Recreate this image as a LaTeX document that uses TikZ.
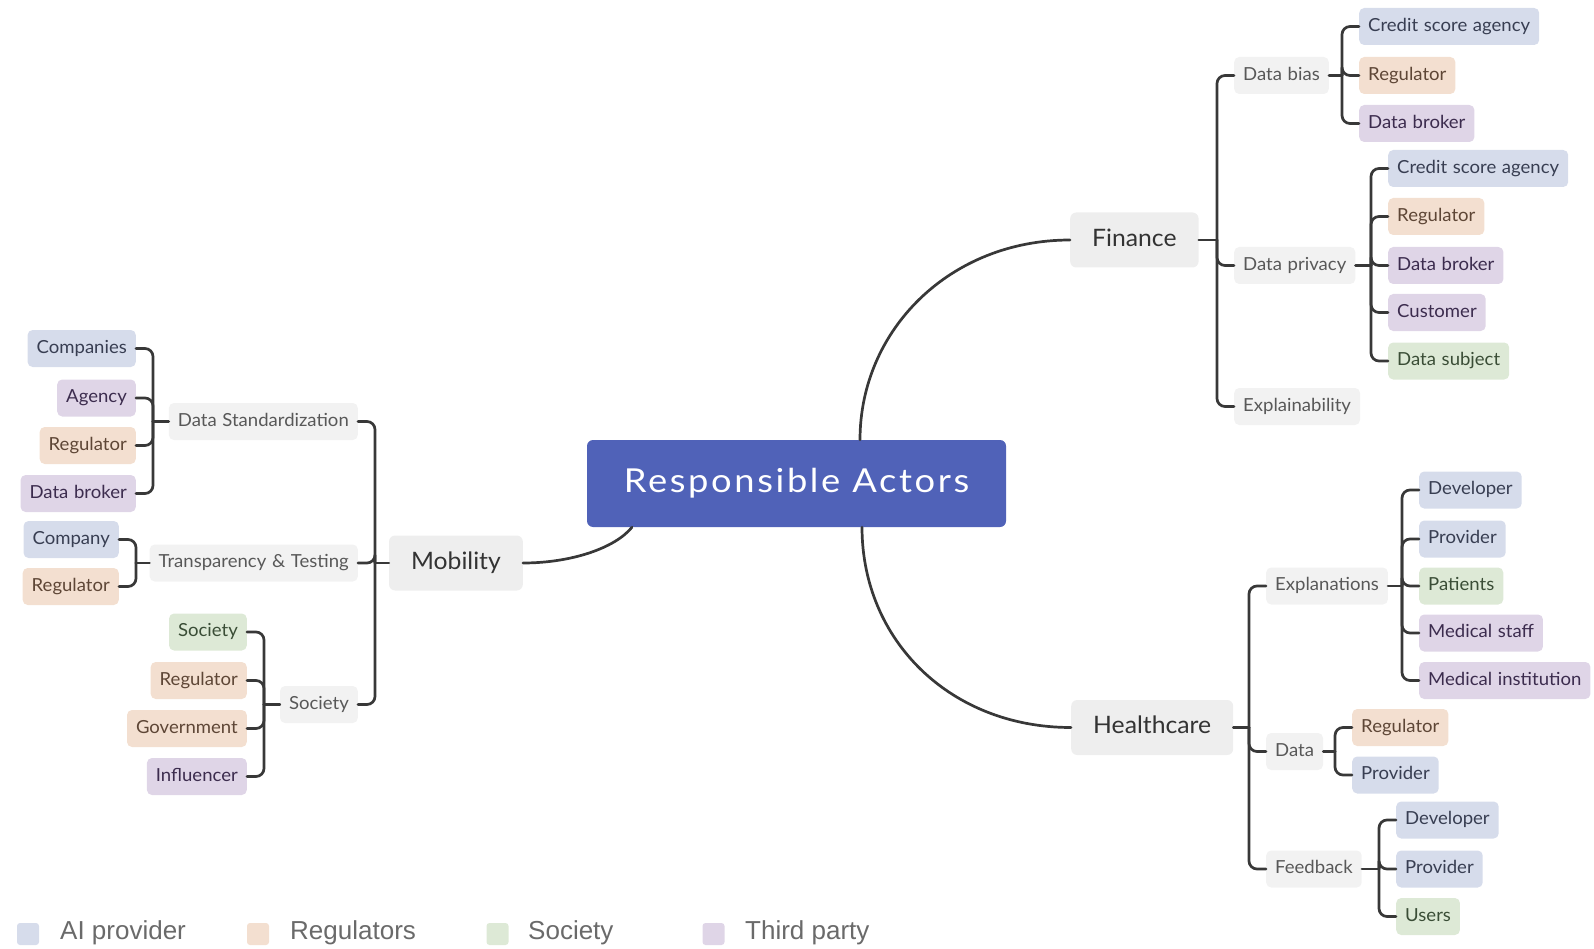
\documentclass[tikz,border=0pt]{standalone}
\usepackage{fontspec}
\setmainfont{Lato}[FakeStretch=1.03, WordSpace=1.2]
\newfontfamily\rootfont{Lato}[FakeStretch=1.1, LetterSpace=8]
\newfontfamily\legendfont{Liberation Sans}
\usetikzlibrary{calc}

% category colours: fill / text
\definecolor{aiF}{HTML}{D6DCEB}\definecolor{aiT}{HTML}{383E52}
\definecolor{regF}{HTML}{F3DFD0}\definecolor{regT}{HTML}{5E4636}
\definecolor{socF}{HTML}{DDE9D6}\definecolor{socT}{HTML}{3A4D36}
\definecolor{thpF}{HTML}{DFD5E7}\definecolor{thpT}{HTML}{3C2C4E}
\definecolor{subF}{HTML}{F2F2F2}\definecolor{subT}{HTML}{585858}
\definecolor{topF}{HTML}{EEEEEE}\definecolor{topT}{HTML}{333333}
\definecolor{rootF}{HTML}{5062B8}
\definecolor{linec}{HTML}{383838}
\definecolor{legT}{HTML}{6A6A6A}

\begin{document}
\begin{tikzpicture}[x=1pt,y=-1pt,
  box/.style={rounded corners=5pt, inner xsep=9pt, inner ysep=0pt,
    minimum height=37pt, text height=13pt, text depth=3.5pt,
    font=\fontsize{18}{21}\selectfont},
  ai/.style={box, fill=aiF, text=aiT},
  reg/.style={box, fill=regF, text=regT},
  soc/.style={box, fill=socF, text=socT},
  thp/.style={box, fill=thpF, text=thpT},
  sub/.style={box, fill=subF, text=subT},
  topic/.style={rounded corners=6pt, fill=topF, text=topT, inner xsep=22pt,
    inner ysep=0pt, minimum height=55pt, text height=16.5pt, text depth=4pt,
    font=\fontsize{24}{28}\selectfont},
  rootbox/.style={rounded corners=6pt, fill=rootF, text=white,
    minimum width=419pt, minimum height=87pt, text height=24pt, text depth=7pt,
    font=\rootfont\fontsize{33}{38}\selectfont},
  link/.style={draw=linec, line width=2.7pt, rounded corners=8pt, line cap=round},
  legsq/.style={rounded corners=3pt, minimum width=22pt, minimum height=22pt, inner sep=0pt},
  legtxt/.style={text=legT, inner sep=0pt, anchor=west, font=\legendfont\fontsize{26}{30}\selectfont}
]
\useasboundingbox (0,0) rectangle (1594,949);

% ---------- centre ----------
\node[rootbox] (root) at (796.5,483.5) {Responsible Actors};

% ---------- Finance ----------
\node[topic, anchor=west] (fin) at (1070,240) {Finance};
\node[sub, anchor=west] (fbias) at (1234,75.5) {Data bias};
\node[sub, anchor=west] (fpriv) at (1234,265.5) {Data privacy};
\node[sub, anchor=west] (fexpl) at (1234,406.5) {Explainability};

\node[ai,  anchor=west] (fb1) at (1359,26.5)  {Credit score agency};
\node[reg, anchor=west] (fb2) at (1359,75.5)  {Regulator};
\node[thp, anchor=west] (fb3) at (1359,123.5) {Data broker};

\node[ai,  anchor=west] (fp1) at (1388,168.5) {Credit score agency};
\node[reg, anchor=west] (fp2) at (1388,216.5) {Regulator};
\node[thp, anchor=west] (fp3) at (1388,265.5) {Data broker};
\node[thp, anchor=west] (fp4) at (1388,312.5) {Customer};
\node[soc, anchor=west] (fp5) at (1388,361)   {Data subject};

% ---------- Healthcare ----------
\node[topic, anchor=west] (hc) at (1071,727.5) {Healthcare};
\node[sub, anchor=west] (hexp) at (1266,586) {Explanations};
\node[sub, anchor=west] (hdat) at (1266,751.5) {Data};
\node[sub, anchor=west] (hfb)  at (1266,869) {Feedback};

\node[ai,  anchor=west] (he1) at (1419,490)   {Developer};
\node[ai,  anchor=west] (he2) at (1419,539)   {Provider};
\node[soc, anchor=west] (he3) at (1419,586)   {Patients};
\node[thp, anchor=west] (he4) at (1419,633)   {Medical staff};
\node[thp, anchor=west] (he5) at (1419,680.5) {Medical institution};

\node[reg, anchor=west] (hd1) at (1352,727.5) {Regulator};
\node[ai,  anchor=west] (hd2) at (1352,775)   {Provider};

\node[ai,  anchor=west] (hf1) at (1396,820)   {Developer};
\node[ai,  anchor=west] (hf2) at (1396,869)   {Provider};
\node[soc, anchor=west] (hf3) at (1396,916.5) {Users};

% ---------- Mobility ----------
\node[topic, anchor=east] (mob) at (523,563) {Mobility};
\node[sub, anchor=east] (mstd) at (358,421.5) {Data Standardization};
\node[sub, anchor=east] (mtt)  at (358,563)   {Transparency \& Testing};
\node[sub, anchor=east] (msoc) at (358,704.5) {Society};

\node[ai,  anchor=east] (ms1) at (136,348.5) {Companies};
\node[thp, anchor=east] (ms2) at (136,398)   {Agency};
\node[reg, anchor=east] (ms3) at (136,445.5) {Regulator};
\node[thp, anchor=east] (ms4) at (136,493.5) {Data broker};

\node[ai,  anchor=east] (mt1) at (119,539.5) {Company};
\node[reg, anchor=east] (mt2) at (119,586.5) {Regulator};

\node[soc, anchor=east] (mo1) at (247,632)   {Society};
\node[reg, anchor=east] (mo2) at (247,680.5) {Regulator};
\node[reg, anchor=east] (mo3) at (247,728.5) {Government};
\node[thp, anchor=east] (mo4) at (247,776.5) {Influencer};

% ---------- junction points of the brackets ----------
\coordinate (finJ) at ($(fbias.west |- fin.east)+(-17,0)$);
\coordinate (fbJ)  at ($(fb1.west |- fbias.east)+(-17,0)$);
\coordinate (fpJ)  at ($(fp1.west |- fpriv.east)+(-17,0)$);
\coordinate (hcJ)  at ($(hexp.west |- hc.east)+(-17,0)$);
\coordinate (heJ)  at ($(he1.west |- hexp.east)+(-17,0)$);
\coordinate (hdJ)  at ($(hd1.west |- hdat.east)+(-17,0)$);
\coordinate (hfJ)  at ($(hf1.west |- hfb.east)+(-17,0)$);
\coordinate (mobJ) at ($(mstd.east |- mob.west)+(17,0)$);
\coordinate (msJ)  at ($(ms1.east |- mstd.west)+(17,0)$);
\coordinate (mtJ)  at ($(mt1.east |- mtt.west)+(17,0)$);
\coordinate (moJ)  at ($(mo1.east |- msoc.west)+(17,0)$);

% ---------- stems ----------
\draw[link] (fin.east) -- (finJ);
\draw[link] (fbias.east) -- (fbJ);
\draw[link] (fpriv.east) -- (fpJ);
\draw[link] (hc.east) -- (hcJ);
\draw[link] (hexp.east) -- (heJ);
\draw[link] (hdat.east) -- (hdJ);
\draw[link] (hfb.east) -- (hfJ);
\draw[link] (mob.west) -- (mobJ);
\draw[link] (mstd.west) -- (msJ);
\draw[link] (mtt.west) -- (mtJ);
\draw[link] (msoc.west) -- (moJ);

% ---------- brackets ----------
\foreach \c in {fbias,fpriv,fexpl} \draw[link] (finJ) |- (\c.west);
\foreach \c in {fb1,fb2,fb3} \draw[link] (fbJ) |- (\c.west);
\foreach \c in {fp1,fp2,fp3,fp4,fp5} \draw[link] (fpJ) |- (\c.west);
\foreach \c in {hexp,hdat,hfb} \draw[link] (hcJ) |- (\c.west);
\foreach \c in {he1,he2,he3,he4,he5} \draw[link] (heJ) |- (\c.west);
\foreach \c in {hd1,hd2} \draw[link] (hdJ) |- (\c.west);
\foreach \c in {hf1,hf2,hf3} \draw[link] (hfJ) |- (\c.west);
\foreach \c in {mstd,mtt,msoc} \draw[link] (mobJ) |- (\c.east);
\foreach \c in {ms1,ms2,ms3,ms4} \draw[link] (msJ) |- (\c.east);
\foreach \c in {mt1,mt2} \draw[link] (mtJ) |- (\c.east);
\foreach \c in {mo1,mo2,mo3,mo4} \draw[link] (moJ) |- (\c.east);

% ---------- main branches ----------
\draw[link] ([xshift=63.5pt]root.north) .. controls +(0,-110) and +(-120,0) .. (fin.west);
\draw[link] ([xshift=65.5pt]root.south) .. controls +(0,113) and +(-121,0) .. (hc.west);
\draw[link] ([xshift=-164.5pt]root.south) .. controls +(-17,21) and +(48,0) .. (mob.east);

% ---------- legend ----------
\node[legsq, fill=aiF]  (lgA) at (28,934) {};
\node[legtxt] (lgAt) at (60,933) {AI provider};
\node[legsq, fill=regF] (lgR) at (258,934) {};
\node[legtxt] (lgRt) at (290,933) {Regulators};
\node[legsq, fill=socF] (lgS) at (497.5,934) {};
\node[legtxt] (lgSt) at (528,933) {Society};
\node[legsq, fill=thpF] (lgT) at (713.5,934) {};
\node[legtxt] (lgTt) at (745,933) {Third party};
\end{tikzpicture}
\end{document}
